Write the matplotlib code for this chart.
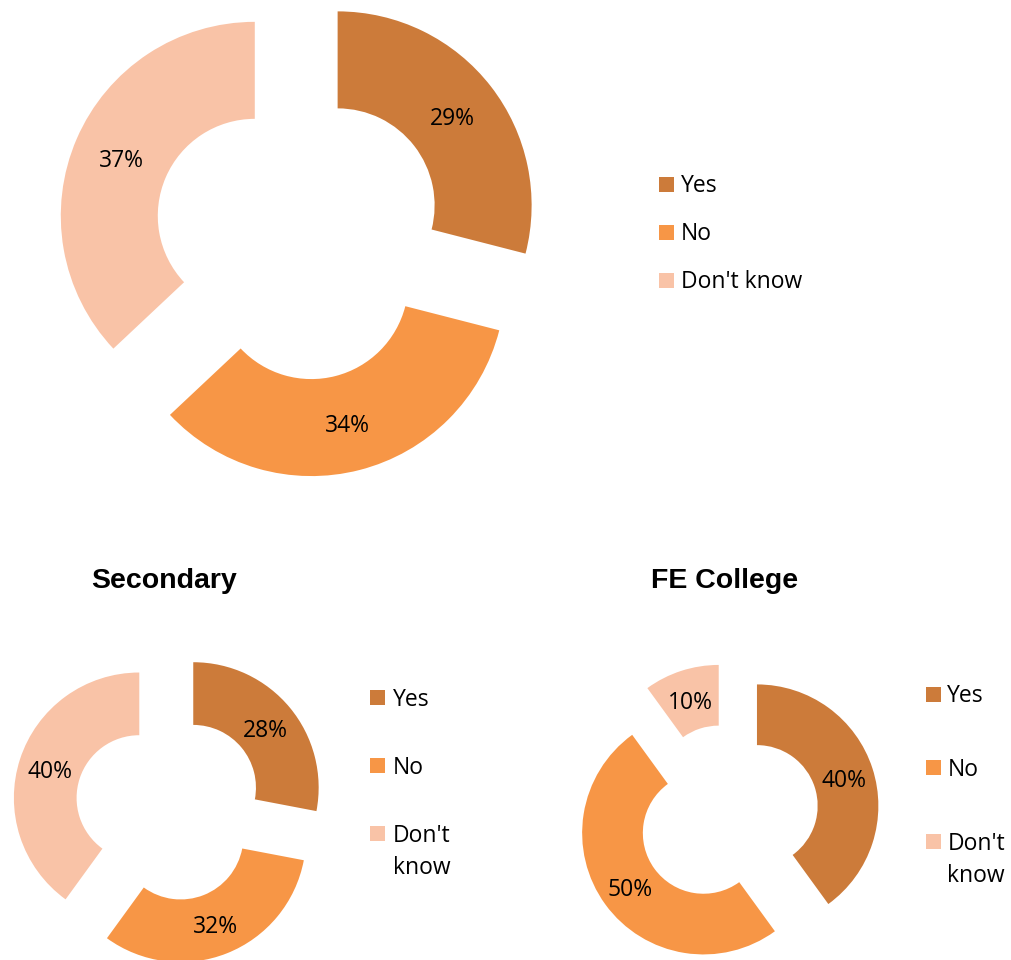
import matplotlib
matplotlib.use("Agg")
import matplotlib.pyplot as plt
from matplotlib.patches import Rectangle

# canvas in pixels (dpi 100)
W, H = 1011, 960

categories = ["Yes", "No", "Don't know"]
wrapped_labels = ["Yes", "No", "Don't\nknow"]
overall = [29, 34, 37]
secondary = [28, 32, 40]
fe_college = [40, 50, 10]
colors = ["#CC7B3A", "#F79646", "#F9C3A7"]

BODY_FONT = "Open Sans"
TITLE_FONT = "Liberation Sans"
LABEL_PT = 16.5
TITLE_PT = 20.5


def donut(fig, values, cx, cy, r_px):
    # axes centred on (cx, cy) image pixels, pie radius 1 == r_px
    span = 1.3
    half = span * r_px
    ax = fig.add_axes([(cx - half) / W, (H - cy - half) / H, 2 * half / W, 2 * half / H])
    _, _, autotexts = ax.pie(
        values,
        colors=colors,
        startangle=90,
        counterclock=False,
        explode=[0.25] * len(values),
        radius=1.0,
        wedgeprops=dict(width=0.5, linewidth=0),
        autopct="%1.0f%%",
        pctdistance=0.75,
        textprops=dict(fontsize=LABEL_PT, family=BODY_FONT, color="black"),
    )
    # Excel centres the line box a touch lower than matplotlib does
    for t in autotexts:
        x, y = t.get_position()
        t.set_position((x, y - 3 / r_px))
    ax.set_xlim(-span, span)
    ax.set_ylim(-span, span)
    ax.set_aspect("equal")
    ax.axis("off")
    return ax


def legend(fig, labels, x_sq, x_txt, rows, line_px=33):
    for lab, col, yc in zip(labels, colors, rows):
        fig.patches.append(
            Rectangle(
                (x_sq / W, (H - yc - 7.5) / H), 15 / W, 15 / H,
                transform=fig.transFigure, facecolor=col, edgecolor="none",
            )
        )
        for i, line in enumerate(lab.split("\n")):
            fig.text(
                x_txt / W, (H - (yc + 8 + i * line_px)) / H, line,
                fontsize=LABEL_PT, family=BODY_FONT, va="baseline", ha="left",
            )


fig = plt.figure(figsize=(W / 100, H / 100), dpi=100)
fig.patch.set_facecolor("white")

donut(fig, overall, 299.3, 235.1, 194)
donut(fig, secondary, 169.1, 807.6, 125.4)
donut(fig, fe_college, 728.1, 815.2, 121.4)

legend(fig, categories, 659, 681, [184.5, 232.5, 280.5])
legend(fig, wrapped_labels, 370, 392.7, [697.5, 765.5, 833.5])
legend(fig, wrapped_labels, 926, 947.3, [694.5, 767.5, 841.5])

for title, x in [("Secondary", 164.4), ("FE College", 725)]:
    fig.text(x / W, (H - 587.5) / H, title, fontsize=TITLE_PT, family=TITLE_FONT,
             fontweight="bold", ha="center", va="baseline")

fig.savefig("out.png", dpi=100, facecolor=fig.get_facecolor())
plt.close(fig)
